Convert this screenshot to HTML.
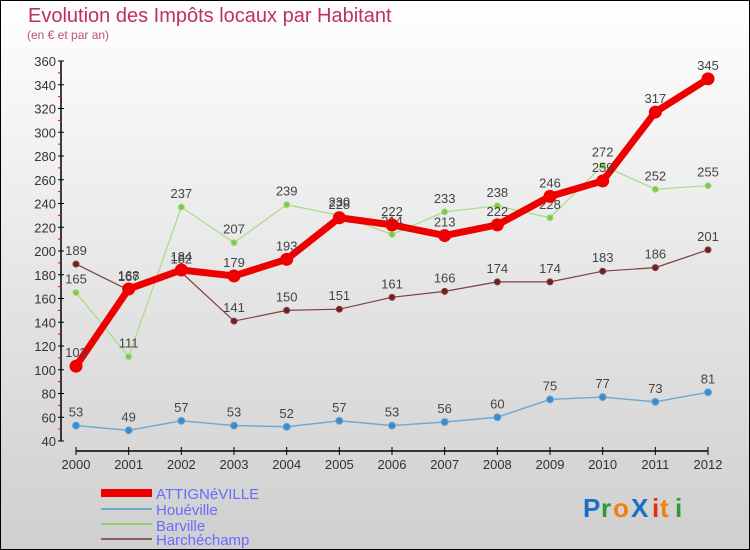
<!DOCTYPE html>
<html><head><meta charset="utf-8"><style>
html,body{margin:0;padding:0}
#c{position:relative;width:748px;height:548px;border:1px solid #000;background:linear-gradient(#ffffff,#e6e6e6 50%,#cfcfcf);font-family:"Liberation Sans",sans-serif;overflow:hidden}
svg{position:absolute;left:0;top:0}
</style></head><body>
<div id="c">
<svg id="s" width="748" height="548">
<text x="27" y="21" font-size="20" fill="#c0305a">Evolution des Impôts locaux par Habitant</text>
<text x="26" y="38" font-size="12" fill="#c0507a">(en € et par an)</text>
<g id="ax"></g><g id="ser"></g>
<g>
<rect x="100" y="488" width="51" height="8" fill="#e00"/>
<text x="155" y="498" font-size="15" fill="#6b6bff">ATTIGNéVILLE</text>
<line x1="100" y1="508" x2="151" y2="508" stroke="#6fa8d0" stroke-width="2"/>
<text x="155" y="514" font-size="15" fill="#6b6bff">Houéville</text>
<line x1="100" y1="523" x2="151" y2="523" stroke="#90d070" stroke-width="2"/>
<text x="155" y="530" font-size="15" fill="#6b6bff">Barville</text>
<line x1="100" y1="538" x2="151" y2="538" stroke="#906060" stroke-width="2"/>
<text x="155" y="544" font-size="15" fill="#6b6bff">Harchéchamp</text>
</g>
<g font-size="26" font-weight="bold">
<text x="582" y="516" fill="#1a70c8">P</text><text x="600" y="516" fill="#2a9a3a">r</text><text x="612" y="516" fill="#f08010">o</text><text x="630" y="516" fill="#1a70c8">X</text><text x="651" y="516" fill="#e03010">i</text><text x="659" y="516" fill="#f08010">t</text><text x="674" y="516" fill="#2a9a3a">i</text>
</g>
</svg>
</div>
<script>
const years=[2000,2001,2002,2003,2004,2005,2006,2007,2008,2009,2010,2011,2012];
const yTicks=[40,60,80,100,120,140,160,180,200,220,240,260,280,300,320,340,360];
const attigneville=[103,168,184,179,193,228,222,213,222,246,259,317,345];
const houeville=[53,49,57,53,52,57,53,56,60,75,77,73,81];
const barville=[165,111,237,207,239,230,214,233,238,228,272,252,255];
const harchechamp=[189,167,182,141,150,151,161,166,174,174,183,186,201];
const NS="http://www.w3.org/2000/svg";
function X(i){return 75+i*(707-75)/(years.length-1);}
function Y(v){return 440-(v-40)*(380/320);}
function mk(t,a,p){const e=document.createElementNS(NS,t);for(const k in a)e.setAttribute(k,a[k]);p.appendChild(e);return e;}
const ax=document.getElementById('ax');
mk('line',{x1:60,y1:Y(360),x2:60,y2:440,stroke:'#000','stroke-width':1.5},ax);
mk('line',{x1:75,y1:450,x2:707,y2:450,stroke:'#000','stroke-width':1.5},ax);
yTicks.forEach(v=>{
 mk('line',{x1:57,y1:Y(v),x2:63,y2:Y(v),stroke:'#000'},ax);
 if(v<360)mk('line',{x1:57,y1:Y(v+10),x2:60,y2:Y(v+10),stroke:'#e00'},ax);
 const t=mk('text',{x:55,y:Y(v)+5,'font-size':13,fill:'#333','text-anchor':'end'},ax);t.textContent=v;
 
 
});
years.forEach((y,i)=>{
 mk('line',{x1:X(i),y1:446,x2:X(i),y2:454,stroke:'#000'},ax);
 const t=mk('text',{x:X(i),y:468,'font-size':13,fill:'#333','text-anchor':'middle'},ax);t.textContent=y;
 
 
});
const ser=document.getElementById('ser');
function series(d,name,col,dot,w,r){
 const g=mk('g',{},ser);
 
 
 mk('polyline',{points:d.map((v,i)=>X(i)+','+Y(v)).join(' '),fill:'none',stroke:col,'stroke-width':w,'stroke-linejoin':'round'},g);
 d.forEach((v,i)=>{
  const c=mk('circle',{cx:X(i),cy:Y(v),r:r,fill:dot,stroke:col},g);
  
  
  const t=mk('text',{x:X(i),y:Y(v)-9,'font-size':13,fill:'#444','text-anchor':'middle'},g);t.textContent=v;
  
  
 });
}
series(houeville,'houeville','#6fa8d0','#3a8ad0',1.5,3.5);
series(harchechamp,'harchechamp','#804040','#702020',1.2,3);
series(barville,'barville','#a8dc80','#7cc850',1.2,3);
series(attigneville,'attigneville','#ee0000','#ee0000',7,6);
</script>
</body></html>
